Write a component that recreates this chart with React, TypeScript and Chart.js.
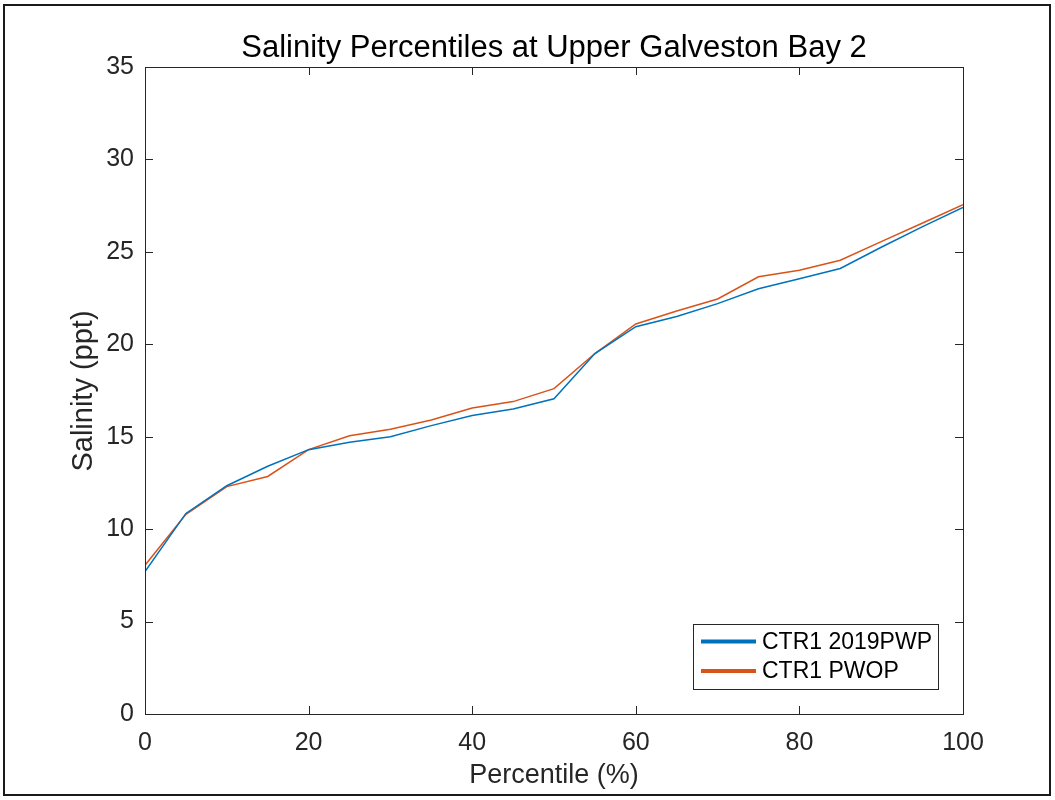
import React, { useEffect, useRef } from "react";
import { Chart, registerables } from "chart.js";

Chart.register(...registerables);

const percentiles: number[] = [0, 5, 10, 15, 20, 25, 30, 35, 40, 45, 50, 55, 60, 65, 70, 75, 80, 85, 90, 95, 100];
const ctr1_2019pwp: number[] = [7.7, 10.85, 12.35, 13.4, 14.3, 14.7, 15.0, 15.6, 16.15, 16.5, 17.05, 19.5, 20.95, 21.5, 22.2, 23.0, 23.55, 24.1, 25.25, 26.35, 27.4];
const ctr1_pwop: number[] = [8.05, 10.8, 12.3, 12.85, 14.3, 15.05, 15.4, 15.9, 16.55, 16.9, 17.6, 19.5, 21.1, 21.8, 22.45, 23.65, 24.0, 24.55, 25.55, 26.55, 27.55];
const seriesLabels: string[] = ["CTR1 2019PWP", "CTR1 PWOP"];
const seriesColors: string[] = ["#0072BD", "#D95319"];
const xTicks: number[] = [0, 20, 40, 60, 80, 100];
const yTicks: number[] = [0, 5, 10, 15, 20, 25, 30, 35];
const titleText = "Salinity Percentiles at Upper Galveston Bay 2";
const xTitle = "Percentile (%)";
const yTitle = "Salinity (ppt)";

const FONT = "'Liberation Sans', Arial, Helvetica, sans-serif";
const AX = "#262626";

const matlabPlugin = {
  id: "matlabDecor",
  beforeDraw(chart: any) {
    const ctx = chart.ctx;
    ctx.save();
    ctx.fillStyle = "#ffffff";
    ctx.fillRect(0, 0, chart.width, chart.height);
    ctx.strokeStyle = "#1a1a1a";
    ctx.lineWidth = 2;
    ctx.strokeRect(4, 5, chart.width - 9, chart.height - 10);
    ctx.restore();
  },
  afterDraw(chart: any) {
    const ctx = chart.ctx;
    const a = chart.chartArea;
    const xs = chart.scales.x;
    const ys = chart.scales.y;
    ctx.save();
    ctx.strokeStyle = AX;
    ctx.lineWidth = 1;
    ctx.strokeRect(Math.round(a.left) + 0.5, Math.round(a.top) + 0.5, Math.round(a.right - a.left), Math.round(a.bottom - a.top));
    const tl = 8;
    ctx.beginPath();
    for (const v of xTicks) {
      const px = Math.round(xs.getPixelForValue(v)) + 0.5;
      ctx.moveTo(px, a.bottom);
      ctx.lineTo(px, a.bottom - tl);
      ctx.moveTo(px, a.top);
      ctx.lineTo(px, a.top + tl);
    }
    for (const v of yTicks) {
      const py = Math.round(ys.getPixelForValue(v)) + 0.5;
      ctx.moveTo(a.left, py);
      ctx.lineTo(a.left + tl, py);
      ctx.moveTo(a.right, py);
      ctx.lineTo(a.right - tl, py);
    }
    ctx.stroke();

    // title
    ctx.fillStyle = "#000000";
    ctx.font = `31px ${FONT}`;
    ctx.textAlign = "center";
    ctx.textBaseline = "alphabetic";
    ctx.fillText(titleText, (a.left + a.right) / 2, 57);

    // axis titles
    ctx.fillStyle = AX;
    ctx.font = `27px ${FONT}`;
    ctx.fillText(xTitle, (a.left + a.right) / 2, 783);
    ctx.save();
    ctx.font = `29px ${FONT}`;
    ctx.translate(92, 391);
    ctx.rotate(-Math.PI / 2);
    ctx.textAlign = "center";
    ctx.fillText(yTitle, 0, 0);
    ctx.restore();

    // legend
    const lx = 693, ly = 624, lw = 245, lh = 65;
    ctx.fillStyle = "#ffffff";
    ctx.fillRect(lx, ly, lw, lh);
    ctx.strokeStyle = AX;
    ctx.lineWidth = 1;
    ctx.strokeRect(lx + 0.5, ly + 0.5, lw, lh);
    const rows = [641.5, 671];
    chart.data.datasets.forEach((ds: any, i: number) => {
      ctx.strokeStyle = ds.borderColor;
      ctx.lineWidth = 4;
      ctx.beginPath();
      ctx.moveTo(701, rows[i]);
      ctx.lineTo(756, rows[i]);
      ctx.stroke();
      ctx.fillStyle = "#000000";
      ctx.font = `23px ${FONT}`;
      ctx.textAlign = "left";
      ctx.textBaseline = "middle";
      ctx.fillText(ds.label, 762, rows[i] + 1);
    });
    ctx.restore();
  },
};

export default function App() {
  const ref = useRef<HTMLCanvasElement | null>(null);
  useEffect(() => {
    if (!ref.current) return;
    const chart = new Chart(ref.current, {
      type: "line",
      data: {
        datasets: [
          {
            label: seriesLabels[0],
            data: percentiles.map((p, i) => ({ x: p, y: ctr1_2019pwp[i] })),
            borderColor: seriesColors[0],
            borderWidth: 1.5,
            pointRadius: 0,
            tension: 0,
            fill: false,
          },
          {
            label: seriesLabels[1],
            data: percentiles.map((p, i) => ({ x: p, y: ctr1_pwop[i] })),
            borderColor: seriesColors[1],
            borderWidth: 1.5,
            pointRadius: 0,
            tension: 0,
            fill: false,
          },
        ],
      },
      options: {
        animation: false,
        responsive: false,
        maintainAspectRatio: false,
        layout: { padding: { top: 67, right: 92, left: 0, bottom: 0 } },
        plugins: { legend: { display: false }, title: { display: false }, tooltip: { enabled: false } },
        scales: {
          x: {
            type: "linear",
            min: 0,
            max: 100,
            afterFit: (s: any) => { s.height = 86; },
            afterBuildTicks: (s: any) => { s.ticks = xTicks.map((v) => ({ value: v })); },
            grid: { display: false, drawTicks: false },
            border: { display: false },
            ticks: { color: AX, font: { family: FONT, size: 25 }, padding: 14, maxRotation: 0 },
          },
          y: {
            type: "linear",
            min: 0,
            max: 35,
            afterFit: (s: any) => { s.width = 145; },
            afterBuildTicks: (s: any) => { s.ticks = yTicks.map((v) => ({ value: v })); },
            grid: { display: false, drawTicks: false },
            border: { display: false },
            ticks: { color: AX, font: { family: FONT, size: 25 }, padding: 11 },
          },
        },
      },
      plugins: [matlabPlugin],
    });
    return () => chart.destroy();
  }, []);
  return (
    <div style={{ position: "absolute", left: 0, top: 0, width: 1055, height: 800, background: "#fff" }}>
      <canvas ref={ref} width={1055} height={800} style={{ display: "block", width: 1055, height: 800 }} />
    </div>
  );
}
